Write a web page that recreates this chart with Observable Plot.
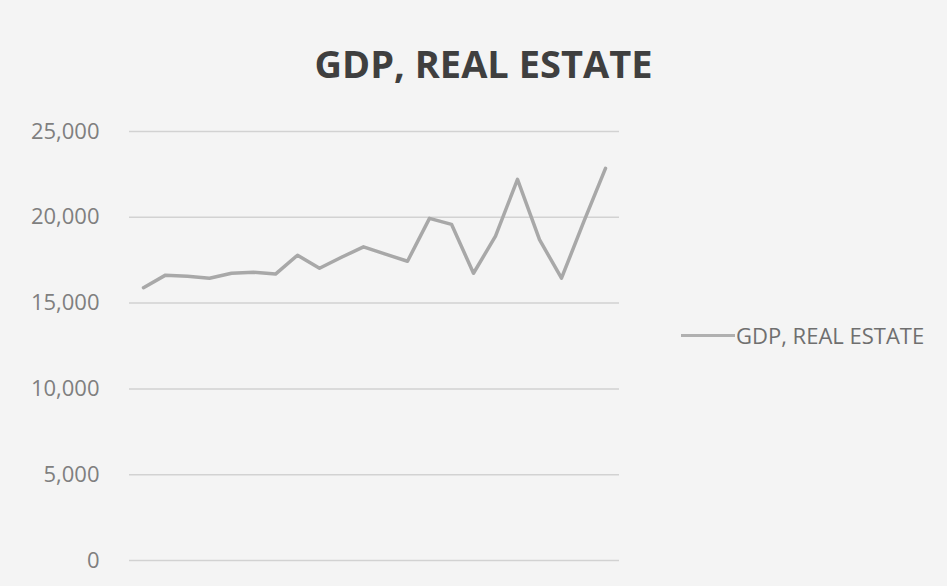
<!DOCTYPE html>
<html>
<head>
<meta charset="utf-8">
<script src="https://cdn.jsdelivr.net/npm/d3@7"></script>
<script src="https://cdn.jsdelivr.net/npm/@observablehq/plot@0.6"></script>
<style>
  html, body { margin: 0; padding: 0; background: #f3f3f3; }
  #wrap { position: relative; width: 947px; height: 586px; overflow: hidden; background: #f4f4f4; }
  #title { position: absolute; left: 0; top: 39px; width: 967px; text-align: center;
           font-family: "Open Sans", sans-serif; font-weight: 700; font-size: 38px; color: #3f3f3f; letter-spacing: 0px; line-height: 48px; }
  #legend { position: absolute; left: 681px; top: 320px; font-family: "Open Sans", sans-serif; font-size: 22px; color: #6f6f6f; display: flex; align-items: center; line-height: 30px; }
  #legend .sw { width: 54px; height: 3px; background: #b0b0b0; margin-right: 1px; }
  #chart { position: absolute; left: 0; top: 0; }
</style>
</head>
<body>
<div id="wrap">
  <div id="chart"></div>
  <div id="title">GDP, REAL ESTATE</div>
  <div id="legend"><div class="sw"></div><span>GDP, REAL ESTATE</span></div>
</div>
<script>
const seriesName = "GDP, REAL ESTATE";
const periods = d3.range(1, 23);
const values = [15900, 16630, 16570, 16450, 16740, 16800, 16690, 17790, 17030, 17670, 18280,
                17850, 17440, 19940, 19590, 16740, 18900, 22210, 18700, 16450, 19700, 22850];
const yTicks = [0, 5000, 10000, 15000, 20000, 25000];

const data = periods.map((p, i) => ({period: p, value: values[i]}));

const chart = Plot.plot({
  width: 947,
  height: 586,
  marginLeft: 129,
  marginRight: 328,
  marginTop: 131,
  marginBottom: 26,
  style: {background: "transparent", fontFamily: "Open Sans, sans-serif", fontSize: "22px", color: "#7f7f7f"},
  x: {type: "point", domain: periods, padding: 0.5, axis: null},
  y: {domain: [0, 25000], axis: null},
  marks: [
    Plot.ruleY(yTicks, {stroke: "#d2d2d2", strokeWidth: 1.5}),
    Plot.axisY(yTicks, {tickSize: 0, tickPadding: 30, tickFormat: d3.format(","), fill: "#7f7f7f", label: null}),
    Plot.line(data, {x: "period", y: "value", stroke: "#a8a8a8", strokeWidth: 3.5, strokeLinejoin: "round"})
  ]
});
document.getElementById("chart").appendChild(chart);
</script>
</body>
</html>
